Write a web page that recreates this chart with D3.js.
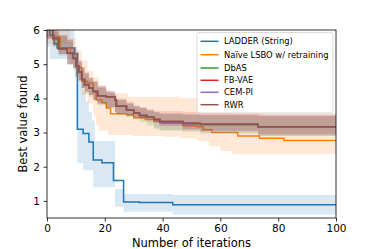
<!DOCTYPE html>
<html>
<head>
<meta charset="utf-8">
<script src="https://cdn.jsdelivr.net/npm/d3@7"></script>
<style>
  html, body { margin: 0; padding: 0; background: #fff; }
  svg { display: block; font-family: "DejaVu Sans", sans-serif; }
</style>
</head>
<body>
<svg id="chart" width="374" height="249"></svg>
<script>
// ---------- data (step breakpoints: iteration -> value) ----------
const seriesNames = ["LADDER (String)", "Naïve LSBO w/ retraining", "DbAS", "FB-VAE", "CEM-PI", "RWR"];
const seriesColors = ["#1f77b4", "#ff7f0e", "#2ca02c", "#d62728", "#9467bd", "#8c564b"];
const xTicks = [0, 20, 40, 60, 80, 100];
const yTicks = [1, 2, 3, 4, 5, 6];

// LADDER (String)
const ladderIter = [0, 1, 2.5, 3.5, 9.5, 10.5, 12.5, 14.5, 16, 19, 23, 26.5, 32, 43.5, 100];
const ladderMean = [6.0, 5.85, 5.6, 5.47, 5.3, 3.1, 2.97, 2.72, 2.2, 2.12, 1.6, 0.97, 0.95, 0.89, 0.89];
const ladderHiIter = [0, 8, 9.5, 10.5, 11.5, 12.5, 13.5, 14.5, 15.5, 16.5, 23.5, 26.5, 43.5, 100];
const ladderHi = [6.3, 6.0, 5.5, 4.8, 4.5, 4.2, 3.9, 3.6, 3.35, 2.75, 1.35, 1.2, 1.17, 1.17];
const ladderLoIter = [0, 1, 9.5, 10.5, 12.5, 16, 23.5, 26.5, 43.5, 100];
const ladderLo = [5.5, 5.15, 4.6, 2.1, 1.9, 1.4, 0.83, 0.68, 0.6, 0.6];

// Naive LSBO w/ retraining
const naiveIter = [0, 2, 4.5, 8, 9, 10, 12, 14, 16, 17, 19, 20.5, 22, 27.5, 30, 34, 37, 40, 47, 52, 54, 57, 66, 73.5, 82, 100];
const naiveMean = [6.05, 5.8, 5.45, 5.3, 5.15, 4.9, 4.5, 4.45, 4.2, 3.95, 3.87, 3.72, 3.55, 3.52, 3.43, 3.38, 3.32, 3.28, 3.2, 3.17, 3.08, 3.0, 2.9, 2.83, 2.77, 2.77];
const naiveHiIter = [0, 8, 10, 12, 14, 16, 18, 20, 22, 28, 46, 52, 58, 65, 75, 100];
const naiveHi = [6.3, 5.75, 5.4, 5.1, 4.8, 4.6, 4.4, 4.25, 4.15, 4.05, 4.0, 3.75, 3.6, 3.55, 3.5, 3.45];
const naiveLoIter = [0, 8, 10, 12, 14, 16, 17, 18, 21, 30, 40, 46, 52, 56, 60, 64, 100];
const naiveLo = [5.6, 5.0, 4.5, 4.1, 3.85, 3.5, 3.2, 3.05, 2.93, 2.9, 2.88, 2.83, 2.75, 2.6, 2.45, 2.38, 2.34];

// DbAS
const dbasIter = [0, 2, 4, 7, 9, 10, 11, 12, 13, 14.5, 16, 17.5, 20.5, 23.5, 24, 27.5, 30, 32, 34.5, 37, 39, 47, 53, 73, 100];
const dbasMean = [6.1, 5.75, 5.45, 5.32, 5.18, 4.95, 4.78, 4.55, 4.4, 4.3, 4.2, 4.08, 4.05, 3.95, 3.77, 3.66, 3.57, 3.5, 3.45, 3.38, 3.3, 3.26, 3.23, 3.17, 3.17];
const dbasHi = [6.3, 5.95, 5.8, 5.65, 5.45, 5.3, 5.05, 4.85, 4.7, 4.55, 4.45, 4.3, 4.15, 4.05, 3.95, 3.85, 3.75, 3.7, 3.62, 3.58, 3.55, 3.52, 3.5, 3.48, 3.45];
const dbasLo = [5.75, 5.5, 5.25, 5.0, 4.85, 4.65, 4.5, 4.3, 4.15, 4.05, 3.95, 3.8, 3.7, 3.6, 3.52, 3.45, 3.4, 3.3, 3.2, 3.1, 3.05, 3.02, 2.98, 2.9, 2.88];

// FB-VAE
const fbvaeIter = dbasIter;
const fbvaeMean = [6.1, 5.75, 5.45, 5.32, 5.18, 4.95, 4.78, 4.55, 4.4, 4.3, 4.2, 4.08, 4.05, 3.95, 3.77, 3.66, 3.57, 3.5, 3.45, 3.38, 3.32, 3.27, 3.24, 3.17, 3.17];
const fbvaeHi = [6.35, 6.0, 5.85, 5.7, 5.5, 5.35, 5.1, 4.9, 4.75, 4.6, 4.5, 4.35, 4.2, 4.1, 4.0, 3.9, 3.8, 3.75, 3.68, 3.64, 3.62, 3.6, 3.58, 3.56, 3.55];
const fbvaeLo = [5.75, 5.55, 5.3, 5.0, 4.9, 4.7, 4.54, 4.3, 4.2, 4.1, 3.95, 3.85, 3.75, 3.6, 3.55, 3.5, 3.45, 3.42, 3.38, 3.3, 3.2, 3.1, 3.05, 2.95, 2.9];

// CEM-PI
const cemIter = dbasIter;
const cemMean = [6.1, 5.75, 5.45, 5.32, 5.18, 4.95, 4.78, 4.55, 4.4, 4.3, 4.2, 4.08, 4.05, 3.95, 3.77, 3.66, 3.57, 3.5, 3.45, 3.38, 3.28, 3.26, 3.24, 3.17, 3.17];
const cemHi = [6.3, 5.95, 5.85, 5.7, 5.5, 5.35, 5.1, 4.9, 4.75, 4.6, 4.5, 4.35, 4.2, 4.1, 3.95, 3.85, 3.78, 3.72, 3.65, 3.6, 3.55, 3.53, 3.52, 3.5, 3.46];
const cemLo = [5.75, 5.55, 5.3, 5.0, 4.9, 4.7, 4.54, 4.3, 4.2, 4.1, 3.95, 3.85, 3.75, 3.6, 3.55, 3.5, 3.45, 3.4, 3.3, 3.15, 3.08, 3.05, 3.0, 2.9, 2.88];

// RWR
const rwrIter = dbasIter;
const rwrMean = [6.1, 5.75, 5.45, 5.32, 5.18, 4.95, 4.78, 4.55, 4.4, 4.3, 4.2, 4.08, 4.05, 3.95, 3.77, 3.66, 3.57, 3.5, 3.45, 3.38, 3.32, 3.27, 3.24, 3.17, 3.17];
const rwrHi = [6.3, 6.0, 5.85, 5.73, 5.5, 5.35, 5.1, 4.9, 4.75, 4.6, 4.5, 4.35, 4.2, 4.1, 3.95, 3.85, 3.78, 3.72, 3.65, 3.6, 3.55, 3.53, 3.52, 3.5, 3.46];
const rwrLo = [5.75, 5.55, 5.3, 5.0, 4.88, 4.7, 4.54, 4.3, 4.2, 4.1, 3.95, 3.85, 3.75, 3.6, 3.55, 3.5, 3.45, 3.42, 3.38, 3.3, 3.2, 3.1, 3.05, 2.95, 2.88];

// ---------- build ----------
function pts(iter, vals) { return iter.map((d, i) => [d, vals[i]]); }

const series = [
  { mean: pts(ladderIter, ladderMean), hi: pts(ladderHiIter, ladderHi), lo: pts(ladderLoIter, ladderLo) },
  { mean: pts(naiveIter, naiveMean), hi: pts(naiveHiIter, naiveHi), lo: pts(naiveLoIter, naiveLo) },
  { mean: pts(dbasIter, dbasMean), hi: pts(dbasIter, dbasHi), lo: pts(dbasIter, dbasLo) },
  { mean: pts(fbvaeIter, fbvaeMean), hi: pts(fbvaeIter, fbvaeHi), lo: pts(fbvaeIter, fbvaeLo) },
  { mean: pts(cemIter, cemMean), hi: pts(cemIter, cemHi), lo: pts(cemIter, cemLo) },
  { mean: pts(rwrIter, rwrMean), hi: pts(rwrIter, rwrHi), lo: pts(rwrIter, rwrLo) }
];

const plot = { left: 47, right: 336, top: 30, bottom: 218 };
const svg = d3.select("#chart");

const x = d3.scaleLinear().domain([0, 100]).range([plot.left, plot.right]);
const y = d3.scaleLinear().domain([0.5, 6]).range([plot.bottom, plot.top]);

svg.append("defs").append("clipPath").attr("id", "clip")
  .append("rect").attr("x", plot.left).attr("y", plot.top)
  .attr("width", plot.right - plot.left).attr("height", plot.bottom - plot.top);

const g = svg.append("g").attr("clip-path", "url(#clip)");

// band value at iteration (step-after lookup)
function stepVal(arr, t) {
  let v = arr[0][1];
  for (const p of arr) { if (p[0] <= t) v = p[1]; else break; }
  return v;
}
function bandPoints(s) {
  const ts = Array.from(new Set([...s.hi.map(p => p[0]), ...s.lo.map(p => p[0])])).sort((a, b) => a - b);
  return ts.map(t => ({ t, hi: stepVal(s.hi, t), lo: stepVal(s.lo, t) }));
}

const area = d3.area()
  .x(d => x(d.t)).y0(d => y(d.lo)).y1(d => y(d.hi))
  .curve(d3.curveStepAfter);
const line = d3.line()
  .x(d => x(d[0])).y(d => y(d[1]))
  .curve(d3.curveStepAfter);

series.forEach((s, i) => {
  g.append("path").datum(bandPoints(s))
    .attr("d", area)
    .attr("fill", seriesColors[i]).attr("fill-opacity", 0.17).attr("stroke", "none");
  g.append("path").datum(s.mean)
    .attr("d", line)
    .attr("fill", "none").attr("stroke", seriesColors[i]).attr("stroke-width", 1.5);
});

// axes
const xAxis = d3.axisBottom(x).tickValues(xTicks).tickFormat(d3.format("d")).tickSize(3.5).tickPadding(3.5);
const yAxis = d3.axisLeft(y).tickValues(yTicks).tickFormat(d3.format("d")).tickSize(3.5).tickPadding(3.5);

const gx = svg.append("g").attr("transform", `translate(0,${plot.bottom})`).call(xAxis);
const gy = svg.append("g").attr("transform", `translate(${plot.left},0)`).call(yAxis);
[gx, gy].forEach(a => {
  a.select(".domain").remove();
  a.selectAll(".tick line").attr("stroke", "#000").attr("stroke-width", 0.8);
  a.selectAll(".tick text").attr("fill", "#000").attr("font-size", "10.5px")
    .attr("font-family", "DejaVu Sans, sans-serif");
});

// frame
svg.append("rect").attr("x", plot.left).attr("y", plot.top)
  .attr("width", plot.right - plot.left).attr("height", plot.bottom - plot.top)
  .attr("fill", "none").attr("stroke", "#000").attr("stroke-width", 0.8);

// labels
svg.append("text").attr("x", (plot.left + plot.right) / 2).attr("y", 247)
  .attr("text-anchor", "middle").attr("font-size", "11.5px").text("Number of iterations");
svg.append("text").attr("transform", `translate(27,${(plot.top + plot.bottom) / 2}) rotate(-90)`)
  .attr("text-anchor", "middle").attr("font-size", "11.5px").text("Best value found");

// legend
const leg = svg.append("g");
leg.append("rect").attr("x", 197).attr("y", 32.5).attr("width", 136).attr("height", 80.5)
  .attr("rx", 2).attr("fill", "#fff").attr("fill-opacity", 0.8)
  .attr("stroke", "#d0d0d0").attr("stroke-width", 0.8);
const rowY = [41.3, 54.7, 68, 80.3, 92.3, 104.7];
seriesNames.forEach((n, i) => {
  leg.append("line").attr("x1", 200.5).attr("x2", 218.5).attr("y1", rowY[i]).attr("y2", rowY[i])
    .attr("stroke", seriesColors[i]).attr("stroke-width", 1.5);
  leg.append("text").attr("x", 224).attr("y", rowY[i]).attr("dy", "0.35em")
    .attr("font-size", "8.4px").attr("fill", "#000").text(n);
});
</script>
</body>
</html>
